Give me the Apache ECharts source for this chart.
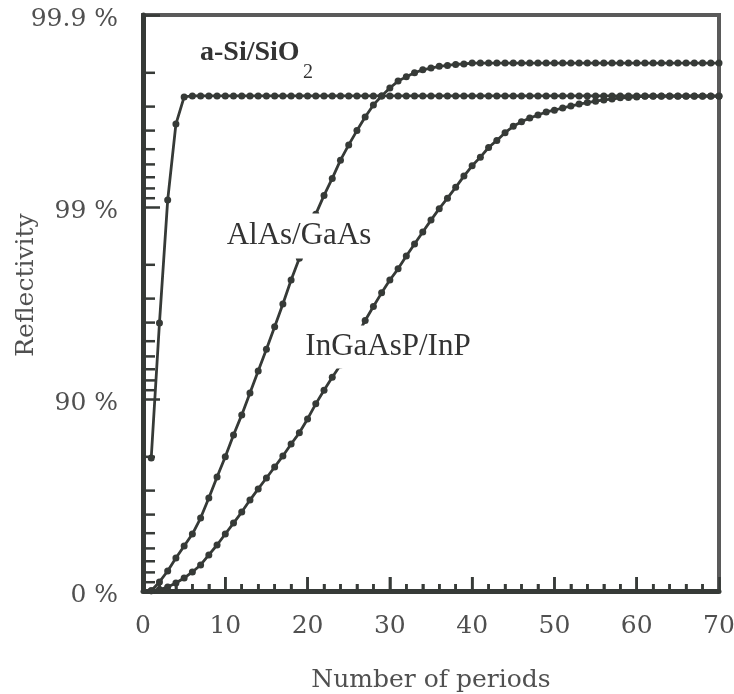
<!DOCTYPE html>
<html lang="en">

<head>
    <meta charset="UTF-8">
    <title>Reflectivity vs number of periods</title>
    <script src="https://cdn.jsdelivr.net/npm/echarts@6.0.0/dist/echarts.min.js"></script>
    <style>
        body {
            margin: 0;
            background: #fff;
        }

        #chart {
            width: 734px;
            height: 694px;
        }
    </style>
</head>

<body>
    <div id="chart"></div>
    <script>
        // x: number of mirror periods
        const periods = Array.from({ length: 70 }, (_, i) => i + 1);
        const xTickLabels = [0, 10, 20, 30, 40, 50, 60, 70];
        // y axis is log(1 - R): one decade per major tick
        const yTickLabels = ['0 %', '90 %', '99 %', '99.9 %'];
        const minorSteps = [2, 3, 4, 5, 6, 7, 8, 9];

        // reflectivity in %, one value per period
        const aSiSiO2 = [
            79.7, 95.98, 99.08, 99.63, 99.733, 99.736, 99.736, 99.736, 99.736, 99.736,
            99.736, 99.736, 99.736, 99.736, 99.736, 99.736, 99.736, 99.736, 99.736, 99.736,
            99.736, 99.736, 99.736, 99.736, 99.736, 99.736, 99.736, 99.736, 99.736, 99.736,
            99.736, 99.736, 99.736, 99.736, 99.736, 99.736, 99.736, 99.736, 99.736, 99.736,
            99.736, 99.736, 99.736, 99.736, 99.736, 99.736, 99.736, 99.736, 99.736, 99.736,
            99.736, 99.736, 99.736, 99.736, 99.736, 99.736, 99.736, 99.736, 99.736, 99.736,
            99.736, 99.736, 99.736, 99.736, 99.736, 99.736, 99.736, 99.736, 99.736, 99.736
        ];
        const alAsGaAs = [
            0.3, 10.3, 21.3, 32.7, 41.7, 49.5, 58.3, 67.2, 74.5, 80.0,
            84.6, 87.9, 90.7, 92.85, 94.5, 95.8, 96.8, 97.6, 98.15, 98.58,
            98.91, 99.13, 99.29, 99.43, 99.525, 99.60, 99.66, 99.706, 99.736, 99.76,
            99.779, 99.79, 99.80, 99.807, 99.811, 99.815, 99.817, 99.819, 99.82, 99.822,
            99.822, 99.822, 99.822, 99.822, 99.822, 99.822, 99.822, 99.822, 99.822, 99.822,
            99.822, 99.822, 99.822, 99.822, 99.822, 99.822, 99.822, 99.822, 99.822, 99.822,
            99.822, 99.822, 99.822, 99.822, 99.822, 99.822, 99.822, 99.822, 99.822, 99.822
        ];
        const inGaAsPInP = [
            0.3, 1.8, 4.7, 9.2, 14.4, 20.4, 26.8, 35.1, 42.4, 49.5,
            55.7, 61.2, 66.4, 70.6, 74.2, 77.4, 80.2, 82.85, 85.0, 87.3,
            89.4, 91.0, 92.3, 93.35, 94.45, 95.3, 96.1, 96.7, 97.2, 97.6,
            97.9, 98.2, 98.44, 98.65, 98.83, 98.98, 99.10, 99.21, 99.31, 99.39,
            99.45, 99.51, 99.55, 99.59, 99.62, 99.64, 99.656, 99.668, 99.68, 99.687,
            99.695, 99.702, 99.709, 99.714, 99.719, 99.723, 99.726, 99.73, 99.731, 99.733,
            99.735, 99.735, 99.735, 99.735, 99.735, 99.735, 99.735, 99.735, 99.735, 99.735
        ];

        const ink = '#363a37';
        const labelColor = '#505050';
        const axisFont = 'DejaVu Serif';

        function toLoss(values) {
            return periods.map((p, i) => [p, 1 - values[i] / 100]);
        }

        function curve(name, values) {
            return {
                name: name,
                type: 'line',
                data: toLoss(values),
                symbol: 'circle',
                symbolSize: 7,
                showAllSymbol: true,
                lineStyle: { color: ink, width: 2.8 },
                itemStyle: { color: ink },
                z: 3
            };
        }

        // log-spaced minor ticks of the reflectivity axis
        let yMinorTicks = [];
        for (let k = 1; k <= 3; k++) {
            minorSteps.forEach(m => yMinorTicks.push([0, m * Math.pow(10, -k)]));
        }
        // inward ticks of the period axis, every 2 periods
        let xTicks = [];
        for (let v = 2; v < 70; v += 2) {
            xTicks.push([v, 0.5]);
        }

        let chart = echarts.init(document.querySelector('#chart'));
        let option = {
            animation: false,
            grid: {
                left: 143,
                top: 15,
                width: 576,
                height: 576,
                show: true,
                borderColor: '#5a5a5a',
                borderWidth: 4,
                outerBoundsMode: 'none'
            },
            xAxis: {
                type: 'value',
                min: 0,
                max: 70,
                interval: 10,
                name: 'Number of periods',
                nameLocation: 'middle',
                nameGap: 77,
                nameTextStyle: { fontFamily: axisFont, fontSize: 25, color: labelColor },
                axisLine: { show: true, onZero: false, lineStyle: { color: ink, width: 5 } },
                axisTick: { show: true, inside: true, length: 14, lineStyle: { color: ink, width: 2.5 } },
                minorTick: { show: true, splitNumber: 5, length: 7, lineStyle: { color: ink, width: 2.5 } },
                axisLabel: {
                    margin: 23, fontFamily: axisFont, fontSize: 25, color: labelColor,
                    formatter: v => xTickLabels.includes(v) ? String(v) : ''
                },
                splitLine: { show: false }
            },
            yAxis: {
                type: 'log',
                logBase: 10,
                min: 0.001,
                max: 1,
                inverse: true,
                axisLine: { show: true, onZero: false, lineStyle: { color: ink, width: 5 } },
                axisTick: { show: true, inside: true, length: 17, lineStyle: { color: ink, width: 2.5 } },
                axisLabel: {
                    margin: 25,
                    fontFamily: axisFont,
                    fontSize: 25,
                    lineHeight: 8,
                    verticalAlign: 'top',
                    color: labelColor,
                    formatter: v => yTickLabels[Math.round(-Math.log10(v))]
                },
                splitLine: { show: false },
                minorTick: { show: false }
            },
            graphic: [
                {
                    type: 'text', x: 26, y: 285, rotation: Math.PI / 2,
                    style: { text: 'Reflectivity', font: '25px "DejaVu Serif"', fill: labelColor, align: 'center', verticalAlign: 'middle' }
                },
                {
                    type: 'text', x: 200, y: 53, z: 100,
                    style: { text: 'a-Si/SiO', font: 'bold 28px "Liberation Serif"', fill: '#333', align: 'left', verticalAlign: 'middle' }
                },
                {
                    type: 'text', x: 303, y: 73, z: 100,
                    style: { text: '2', font: '20px "Liberation Serif"', fill: '#333', align: 'left', verticalAlign: 'middle' }
                },
                {
                    type: 'text', x: 299, y: 236, z: 100,
                    style: { text: 'AlAs/GaAs', font: '31px "Liberation Serif"', fill: '#333', align: 'center', verticalAlign: 'middle', backgroundColor: '#fff', padding: [7, 3] }
                },
                {
                    type: 'text', x: 388, y: 347, z: 100,
                    style: { text: 'InGaAsP/InP', font: '31px "Liberation Serif"', fill: '#333', align: 'center', verticalAlign: 'middle', backgroundColor: '#fff', padding: [3, 3, 9, 3] }
                }
            ],
            series: [
                curve('a-Si/SiO2', aSiSiO2),
                curve('AlAs/GaAs', alAsGaAs),
                curve('InGaAsP/InP', inGaAsPInP),
                {
                    type: 'custom',
                    silent: true,
                    clip: false,
                    z: 4,
                    data: yMinorTicks,
                    renderItem: function (params, api) {
                        let p = api.coord([api.value(0), api.value(1)]);
                        let x0 = params.coordSys.x;
                        return {
                            type: 'line',
                            shape: { x1: x0, y1: p[1], x2: x0 + 12, y2: p[1] },
                            style: { stroke: ink, lineWidth: 2.5 }
                        };
                    }
                },
                {
                    type: 'custom',
                    silent: true,
                    clip: false,
                    z: 4,
                    data: xTicks,
                    renderItem: function (params, api) {
                        let v = api.value(0);
                        let p = api.coord([v, api.value(1)]);
                        let yb = params.coordSys.y + params.coordSys.height;
                        let len = v % 10 === 0 ? 14 : 7;
                        return {
                            type: 'rect',
                            shape: { x: p[0] - 1.25, y: yb - len, width: 2.5, height: len },
                            style: { fill: ink }
                        };
                    }
                }
            ]
        };
        chart.setOption(option);
    </script>
</body>

</html>
